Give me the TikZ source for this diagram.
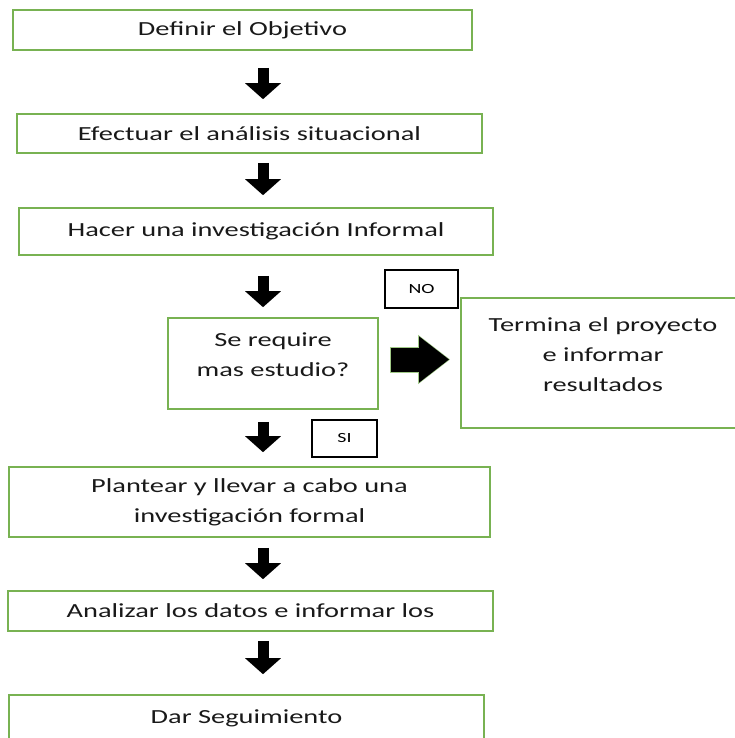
\documentclass[tikz,border=0pt]{standalone}
\usepackage{fontspec}
\setmainfont{Carlito}[FakeStretch=1.42]
\usetikzlibrary{arrows.meta}
\definecolor{fcgreen}{RGB}{120,178,82}

\begin{document}
\begin{tikzpicture}[x=1pt,y=-1pt,font=\fontsize{20}{30}\selectfont,
      box/.style={draw=fcgreen,line width=1.6pt,align=center,inner sep=0pt,text=black!90},
      tag/.style={draw=black,line width=1.3pt,inner sep=0pt,
        font=\fontsize{14}{16}\selectfont},
      down/.style={line width=11pt,-{Triangle[length=16pt,width=35pt]}}]
      \useasboundingbox (0,0) rectangle (734,738);
      \coordinate (ax) at (263,0);
      \node[box,minimum width=459pt,minimum height=40pt] (def) at (242.5,30) {Definir el Objetivo};
      \node[box,minimum width=465pt,minimum height=39pt] (efe) at (249.5,133.5) {Efectuar el análisis situacional};
      \node[box,minimum width=474pt,minimum height=47pt] (hac) at (256,231.5) {Hacer una investigación Informal};
      \node[box,minimum width=210pt,minimum height=91pt] (req) at (273,363.5)
        {\raisebox{8pt}[\height][\depth]{\begin{tabular}{@{}c@{}}Se require\\mas estudio?\end{tabular}}};
      \node[box,minimum width=284pt,minimum height=130pt] (term) at (603,363)
        {\raisebox{8pt}[\height][\depth]{\begin{tabular}{@{}c@{}}Termina el proyecto\\e informar\\resultados\end{tabular}}};
      \node[box,minimum width=481pt,minimum height=70pt] (plan) at (249.5,502) {Plantear y llevar a cabo una\\investigación formal};
      \node[box,minimum width=485pt,minimum height=40pt] (ana) at (250.5,611) {Analizar los datos e informar los};
      \node[box,minimum width=475pt,minimum height=46pt] (dar) at (246.5,718) {Dar Seguimiento};
      \node[tag,minimum width=73pt,minimum height=38pt] (no) at (421.5,289) {NO};
      \node[tag,minimum width=65pt,minimum height=37pt] (si) at (344.5,438.5) {SI};
      % flechas de bloque
      \draw[down,shorten <=17pt,shorten >=14pt] (def.south -| ax) -- (efe.north -| ax);
      \draw[down,shorten <=9pt,shorten >=12pt] (efe.south -| ax) -- (hac.north -| ax);
      \draw[down,shorten <=20pt,shorten >=10pt] (hac.south -| ax) -- (req.north -| ax);
      \draw[down,shorten <=12pt,shorten >=14pt] (req.south -| ax) -- (plan.north -| ax);
      \draw[down,shorten <=10pt,shorten >=11pt] (plan.south -| ax) -- (ana.north -| ax);
      \draw[down,shorten <=9pt,shorten >=20pt] (ana.south -| ax) -- (dar.north -| ax);
      \draw[fcgreen!70,line width=26pt,-{Triangle[length=32pt,width=47pt]},transform canvas={yshift=4pt},
        shorten <=11pt,shorten >=10pt] (req.east) -- (req.east -| term.west);
      \draw[line width=24pt,-{Triangle[length=30pt,width=44pt]},transform canvas={yshift=4pt},
        shorten <=12pt,shorten >=11pt] (req.east) -- (req.east -| term.west);
    \end{tikzpicture}
\end{document}
